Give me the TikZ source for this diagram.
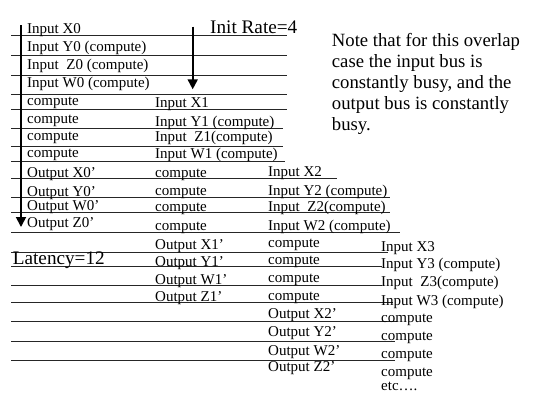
\documentclass[tikz,border=0pt]{standalone}
\usepackage{fontspec}
\setmainfont{Liberation Serif}
\usetikzlibrary{arrows.meta}

\begin{document}
\begin{tikzpicture}[x=1pt,y=-1pt,
  cell/.style={anchor=base west, inner sep=0pt, font=\fontsize{15}{17}\selectfont},
  biglabel/.style={anchor=base west, inner sep=0pt, font=\fontsize{19.2}{22}\selectfont},
  noteline/.style={anchor=base west, inner sep=0pt, font=\fontsize{18.7}{21}\selectfont},
  rule/.style={line width=0.8pt, black!85},
  timearrow/.style={line width=1.8pt, -{Triangle[width=10pt,length=10pt]}}]
\useasboundingbox (0,0) rectangle (538,392);

% row rules of the schedule table
\foreach \yy/\xa/\xb in {35.7/11/287, 55/11/287, 75.7/11/287, 94.3/11/287,
    109.3/11/287, 128.5/11/283, 146.5/11/283, 161/11/285, 178/11/337,
    197.5/11/390, 212/11/390, 232/11/400, 252/11/388, 266.5/11/382,
    285.5/11/382, 302/11/393, 321/11/397, 341/11/395, 360/11/395}
  \draw[rule] (\xa,\yy) -- (\xb,\yy);

% first data set
\foreach \yy/\tt [count=\i] in {33.3/{Input X0}, 51.7/{Input Y0 (compute)},
    69/{Input\ \ Z0 (compute)}, 87.3/{Input W0 (compute)},
    105/compute, 123/compute, 140.5/compute, 157.5/compute,
    177.7/{Output X0’}, 196/{Output Y0’}, 210.7/{Output W0’}, 227.3/{Output Z0’}}
  \node[cell] (a\i) at (27,\yy) {\tt};

% second data set
\foreach \yy/\tt [count=\i] in {107.7/{Input X1}, 126/{Input Y1 (compute)},
    141/{Input\ \ Z1(compute)}, 158.5/{Input W1 (compute)},
    177/compute, 195/compute, 211.7/compute, 230/compute,
    249/{Output X1’}, 266.7/{Output Y1’}, 284/{Output W1’}, 301/{Output Z1’}}
  \node[cell] (b\i) at (155,\yy) {\tt};

% third data set
\foreach \yy/\tt [count=\i] in {176.7/{Input X2}, 195/{Input Y2 (compute)},
    211/{Input\ \ Z2(compute)}, 230/{Input W2 (compute)},
    247/compute, 264/compute, 282/compute, 300/compute,
    318.3/{Output X2’}, 336.7/{Output Y2’}, 355/{Output W2’}, 371.7/{Output Z2’}}
  \node[cell] (c\i) at (268,\yy) {\tt};

% fourth data set
\foreach \yy/\tt [count=\i] in {251.5/{Input X3}, 268.5/{Input Y3 (compute)},
    286.5/{Input\ \ Z3(compute)}, 305/{Input W3 (compute)},
    322.5/compute, 340/compute, 358/compute, 376/compute, 390/{etc….}}
  \node[cell] (d\i) at (381,\yy) {\tt};

% interval markers
\node[biglabel] (rate) at (210,33.3) {Init Rate=4};
\node[biglabel] (latency) at (12.7,264) {Latency=12};
\coordinate (latTop) at (21,25);
\coordinate (latEnd) at (21,227);
\coordinate (rateTop) at (192.7,26.7);
\coordinate (rateEnd) at (192.7,89.3);
\draw[timearrow] (latTop) -- (latEnd);
\draw[timearrow] (rateTop) -- (rateEnd);

% remark
\node[noteline] (n1) at (331.7,46.7) {Note that for this overlap};
\node[noteline] (n2) at (331.7,67.5) {case the input bus is};
\node[noteline] (n3) at (331.7,88.3) {constantly busy, and the};
\node[noteline] (n4) at (331.7,109.1) {output bus is constantly};
\node[noteline] (n5) at (331.7,130) {busy.};
\end{tikzpicture}
\end{document}
